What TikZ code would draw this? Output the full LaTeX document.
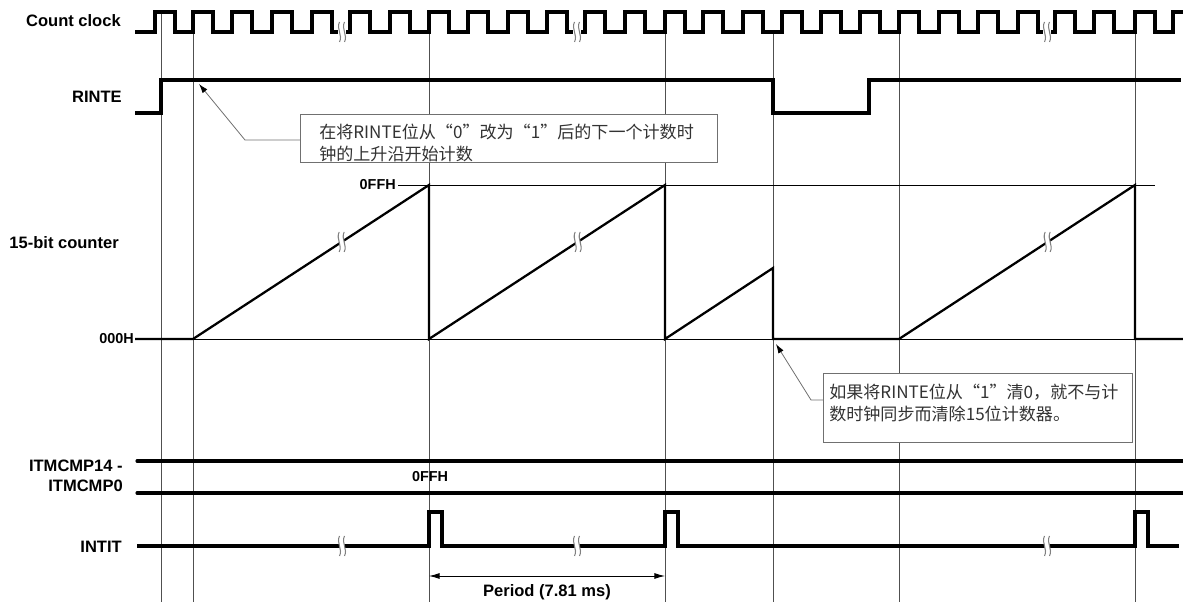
\documentclass[tikz,border=0pt]{standalone}
\usepackage{fontspec}
\setmainfont{Liberation Sans}
\newfontfamily\cjk{Noto Sans CJK SC}
\usetikzlibrary{calc,arrows.meta}

\definecolor{guidegray}{HTML}{505050}
\definecolor{notegray}{HTML}{333333}
\definecolor{boxgray}{HTML}{707070}

\tikzset{
  sig/.style={line width=2.3pt},
  ramp/.style={line width=1.7pt},
  vline/.style={guidegray, line width=0.75pt},
  hline/.style={black, line width=0.65pt},
  lbl/.style={font=\fontsize{12.4}{15}\selectfont\bfseries, inner sep=0pt},
  hexlbl/.style={font=\fontsize{10.8}{12}\selectfont\bfseries, inner sep=0pt},
  notebox/.style={draw=boxgray, line width=0.8pt, fill=white, inner sep=0pt},
  notetext/.style={font=\cjk\fontsize{12.8}{16.5}\selectfont, text=notegray, align=left, inner sep=0pt},
  lead/.style={boxgray, line width=0.6pt, -{Latex[length=7pt,width=4.5pt,color=black]}},
  brk/.pic={
    \fill[white] (-2.5,-10) .. controls (-6,-3) and (1,3) .. (-2.5,10) -- (2.5,10) .. controls (6,3) and (-1,-3) .. (2.5,-10) -- cycle;
    \draw[gray, line width=0.8pt] (-2.5,-10) .. controls (-6,-3) and (1,3) .. (-2.5,10)
      (2.5,-10) .. controls (-1,-3) and (6,3) .. (2.5,10);
  }
}

\begin{document}
\begin{tikzpicture}[x=0.75pt, y=-0.75pt]
    \useasboundingbox (0,0) rectangle (1183,602);

    % guide lines
    \draw[vline] (161,12) -- (161,602);
    \foreach \x in {193,429,665,773,899,1135} {\draw[vline] (\x,32) -- (\x,602);}
    \draw[hline] (135,339) -- (1183,339);
    \draw[hline] (398,185) -- (1155,185);

    % count clock
    \draw[sig] (135,32) foreach \r in {155,193,232,272,312} { -- (\r,32) -- (\r,12) -- (\r+20,12) -- (\r+20,32) } -- (338,32);
    \draw[sig] (346,32) foreach \r in {350,390,429,468,508,547} { -- (\r,32) -- (\r,12) -- (\r+20,12) -- (\r+20,32) } -- (573,32);
    \draw[sig] (581,32) foreach \r in {585,625,665,703,743,782,821,860,899,939,978,1018} { -- (\r,32) -- (\r,12) -- (\r+20,12) -- (\r+20,32) } -- (1043,32);
    \draw[sig] (1051,32) foreach \r in {1055,1094,1135} { -- (\r,32) -- (\r,12) -- (\r+20,12) -- (\r+20,32) } -- (1173,32) -- (1173,12) -- (1183,12);
    \foreach \x in {342,577,1047} {\pic at (\x,32) {brk};}

    % RINTE
    \draw[sig] (135,113) -- (161,113) -- (161,80) -- (773,80) -- (773,113) -- (869,113) -- (869,80) -- (1181,80);

    % 15-bit counter
    \coordinate (R1a) at (193,339);
    \coordinate (R1b) at (429,185);
    \coordinate (R2a) at (429,339);
    \coordinate (R2b) at (665,185);
    \coordinate (R4a) at (899,339);
    \coordinate (R4b) at (1135,185);
    \draw[ramp] (135,339) -- (R1a) -- (R1b) -- (R2a) -- (R2b) -- (665,339) -- (773,268) -- (773,339) -- (R4a) -- (R4b) -- (1135,339) -- (1183,339);
    \pic at ($(R1a)!0.63!(R1b)$) {brk};
    \pic at ($(R2a)!0.63!(R2b)$) {brk};
    \pic at ($(R4a)!0.63!(R4b)$) {brk};

    % ITMCMP14 - ITMCMP0
    \draw[sig, line cap=round] (137,461) -- (1183,461);
    \draw[sig, line cap=round] (137,493) -- (1183,493);

    % INTIT
    \draw[sig] (137,546) foreach \p in {429,665,1135} { -- (\p,546) -- (\p,512) -- (\p+13,512) -- (\p+13,546) } -- (1179,546);
    \foreach \x in {342,577,1047} {\pic at (\x,546) {brk};}

    % period
    \coordinate (per1) at (429,576);
    \coordinate (per2) at (665,576);
    \draw[line width=0.65pt, {Latex[length=8pt,width=4.5pt]}-{Latex[length=8pt,width=4.5pt]}] (per1) -- (per2);
    \node[lbl] (perlbl) at (547,592) {Period (7.81 ms)};

    % labels
    \node[lbl, anchor=east] (clklbl) at (121,21) {Count clock};
    \node[lbl, anchor=east] (rintelbl) at (122,97) {RINTE};
    \node[lbl, anchor=east] (cntlbl) at (119,243) {15-bit counter};
    \node[hexlbl, anchor=east] (zerolbl) at (134,339) {000H};
    \node[hexlbl, anchor=east] (maxlbl) at (396,185) {0FFH};
    \node[lbl, anchor=east, align=right] (cmplbl) at (123,476) {ITMCMP14 -\\ITMCMP0};
    \node[hexlbl] (cmpval) at (430,477) {0FFH};
    \node[lbl, anchor=east] (intitlbl) at (122,547) {INTIT};

    % notes
    \node[notebox, anchor=north west, minimum width=312.75pt, minimum height=36pt] (note1) at (300,114) {};
    \node[notetext, anchor=north west] (note1txt) at (319,124) {在将RINTE位从“0”改为“1”后的下一个计数时\\钟的上升沿开始计数};
    \node[notebox, anchor=north west, minimum width=231.75pt, minimum height=51.75pt] (note2) at (823,373) {};
    \node[notetext, anchor=north west] (note2txt) at (829,384) {如果将RINTE位从“1”清0，就不与计\\数时钟同步而清除15位计数器。};

    \coordinate (tip1) at (199,84);
    \coordinate (elb1) at (245,140);
    \draw[lead] (note1.west |- elb1) -- (elb1) -- (tip1);
    \coordinate (tip2) at (776,344);
    \coordinate (elb2) at (811,400);
    \draw[lead] (note2.west |- elb2) -- (elb2) -- (tip2);
\end{tikzpicture}
\end{document}
